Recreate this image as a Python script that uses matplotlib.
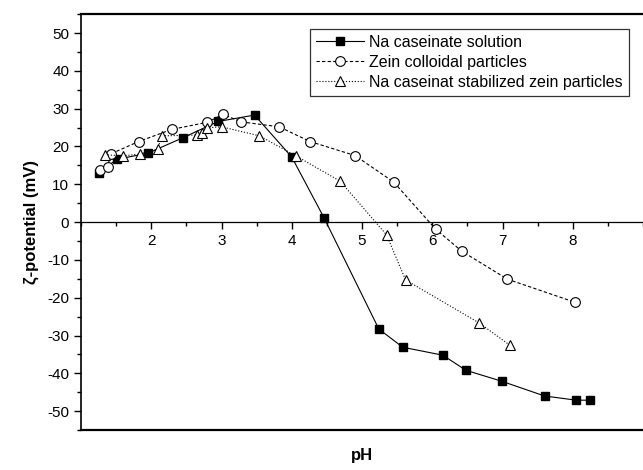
import matplotlib.pyplot as plt
from matplotlib.ticker import MultipleLocator

plt.rcParams['font.family'] = ['Liberation Sans', 'DejaVu Sans']
plt.rcParams['axes.unicode_minus'] = False

# Na caseinate solution
ph_cas = [1.25, 1.51, 1.95, 2.45, 2.95, 3.47, 4.0, 4.46, 5.24, 5.58, 6.15, 6.48, 6.99, 7.60, 8.05, 8.25]
zeta_cas = [13.0, 16.6, 18.2, 22.3, 26.6, 28.3, 17.2, 1.1, -28.3, -33.1, -35.2, -39.2, -42.1, -46.0, -47.1, -47.1]

# Zein colloidal particles
ph_zein = [1.27, 1.38, 1.42, 1.82, 2.29, 2.80, 3.02, 3.28, 3.82, 4.26, 4.90, 5.45, 6.05, 6.42, 7.07, 8.03]
zeta_zein = [13.9, 14.6, 18.0, 21.3, 24.5, 26.4, 28.5, 26.5, 25.2, 21.3, 17.6, 10.6, -1.9, -7.7, -15.1, -21.2]

# Na caseinat stabilized zein particles
ph_mix = [1.34, 1.60, 1.84, 2.09, 2.15, 2.65, 2.72, 2.79, 3.0, 3.54, 4.06, 4.69, 5.35, 5.62, 6.67, 7.10]
zeta_mix = [17.8, 17.5, 18.0, 19.2, 22.8, 23.0, 23.5, 24.9, 25.2, 22.8, 17.5, 10.8, -3.4, -15.3, -26.7, -32.5]

fig = plt.figure(figsize=(6.43, 4.70), dpi=100)
ax = fig.add_axes([0.126, 0.085, 0.874, 0.885])

ax.plot(ph_cas, zeta_cas, '-', color='black', lw=0.8, marker='s', ms=6,
        mfc='black', mec='black', label='Na caseinate solution')
ax.plot(ph_zein, zeta_zein, '--', color='black', lw=0.8, dashes=(3, 2), marker='o', ms=7,
        mfc='white', mec='black', mew=0.8, label='Zein colloidal particles')
ax.plot(ph_mix, zeta_mix, ':', color='black', lw=0.8, marker='^', ms=7,
        mfc='white', mec='black', mew=0.8, label='Na caseinat stabilized zein particles')

ax.set_xlim(1, 9)
ax.set_ylim(-55, 55)

ax.spines['right'].set_visible(False)
ax.spines['top'].set_linewidth(1.6)
ax.spines['left'].set_linewidth(1.2)
ax.spines['bottom'].set_position(('data', 0))
ax.spines['bottom'].set_linewidth(0.9)
ax.axhline(-55, color='black', lw=1.6, clip_on=False)

ax.xaxis.set_major_locator(MultipleLocator(1))
ax.xaxis.set_minor_locator(MultipleLocator(0.5))
ax.yaxis.set_major_locator(MultipleLocator(10))
ax.yaxis.set_minor_locator(MultipleLocator(5))
ax.set_xticks([2, 3, 4, 5, 6, 7, 8])
ax.tick_params(axis='both', which='major', direction='out', length=5, width=1, labelsize=11)
ax.tick_params(axis='both', which='minor', direction='out', length=3, width=1)

ax.set_ylabel('\u03b6-potential (mV)', fontsize=12, fontweight='bold', labelpad=6)
ax.text(0.5, -0.06, 'pH', transform=ax.transAxes, ha='center', va='center',
        fontsize=12, fontweight='bold')

leg = ax.legend(loc='upper right', bbox_to_anchor=(0.975, 0.965), fontsize=11.5,
                frameon=True, fancybox=False, edgecolor='black', handlelength=3.0,
                handletextpad=0.3, borderpad=0.4, labelspacing=0.3, borderaxespad=0)
leg.get_frame().set_linewidth(0.9)

fig.savefig('out.png', dpi=100)
